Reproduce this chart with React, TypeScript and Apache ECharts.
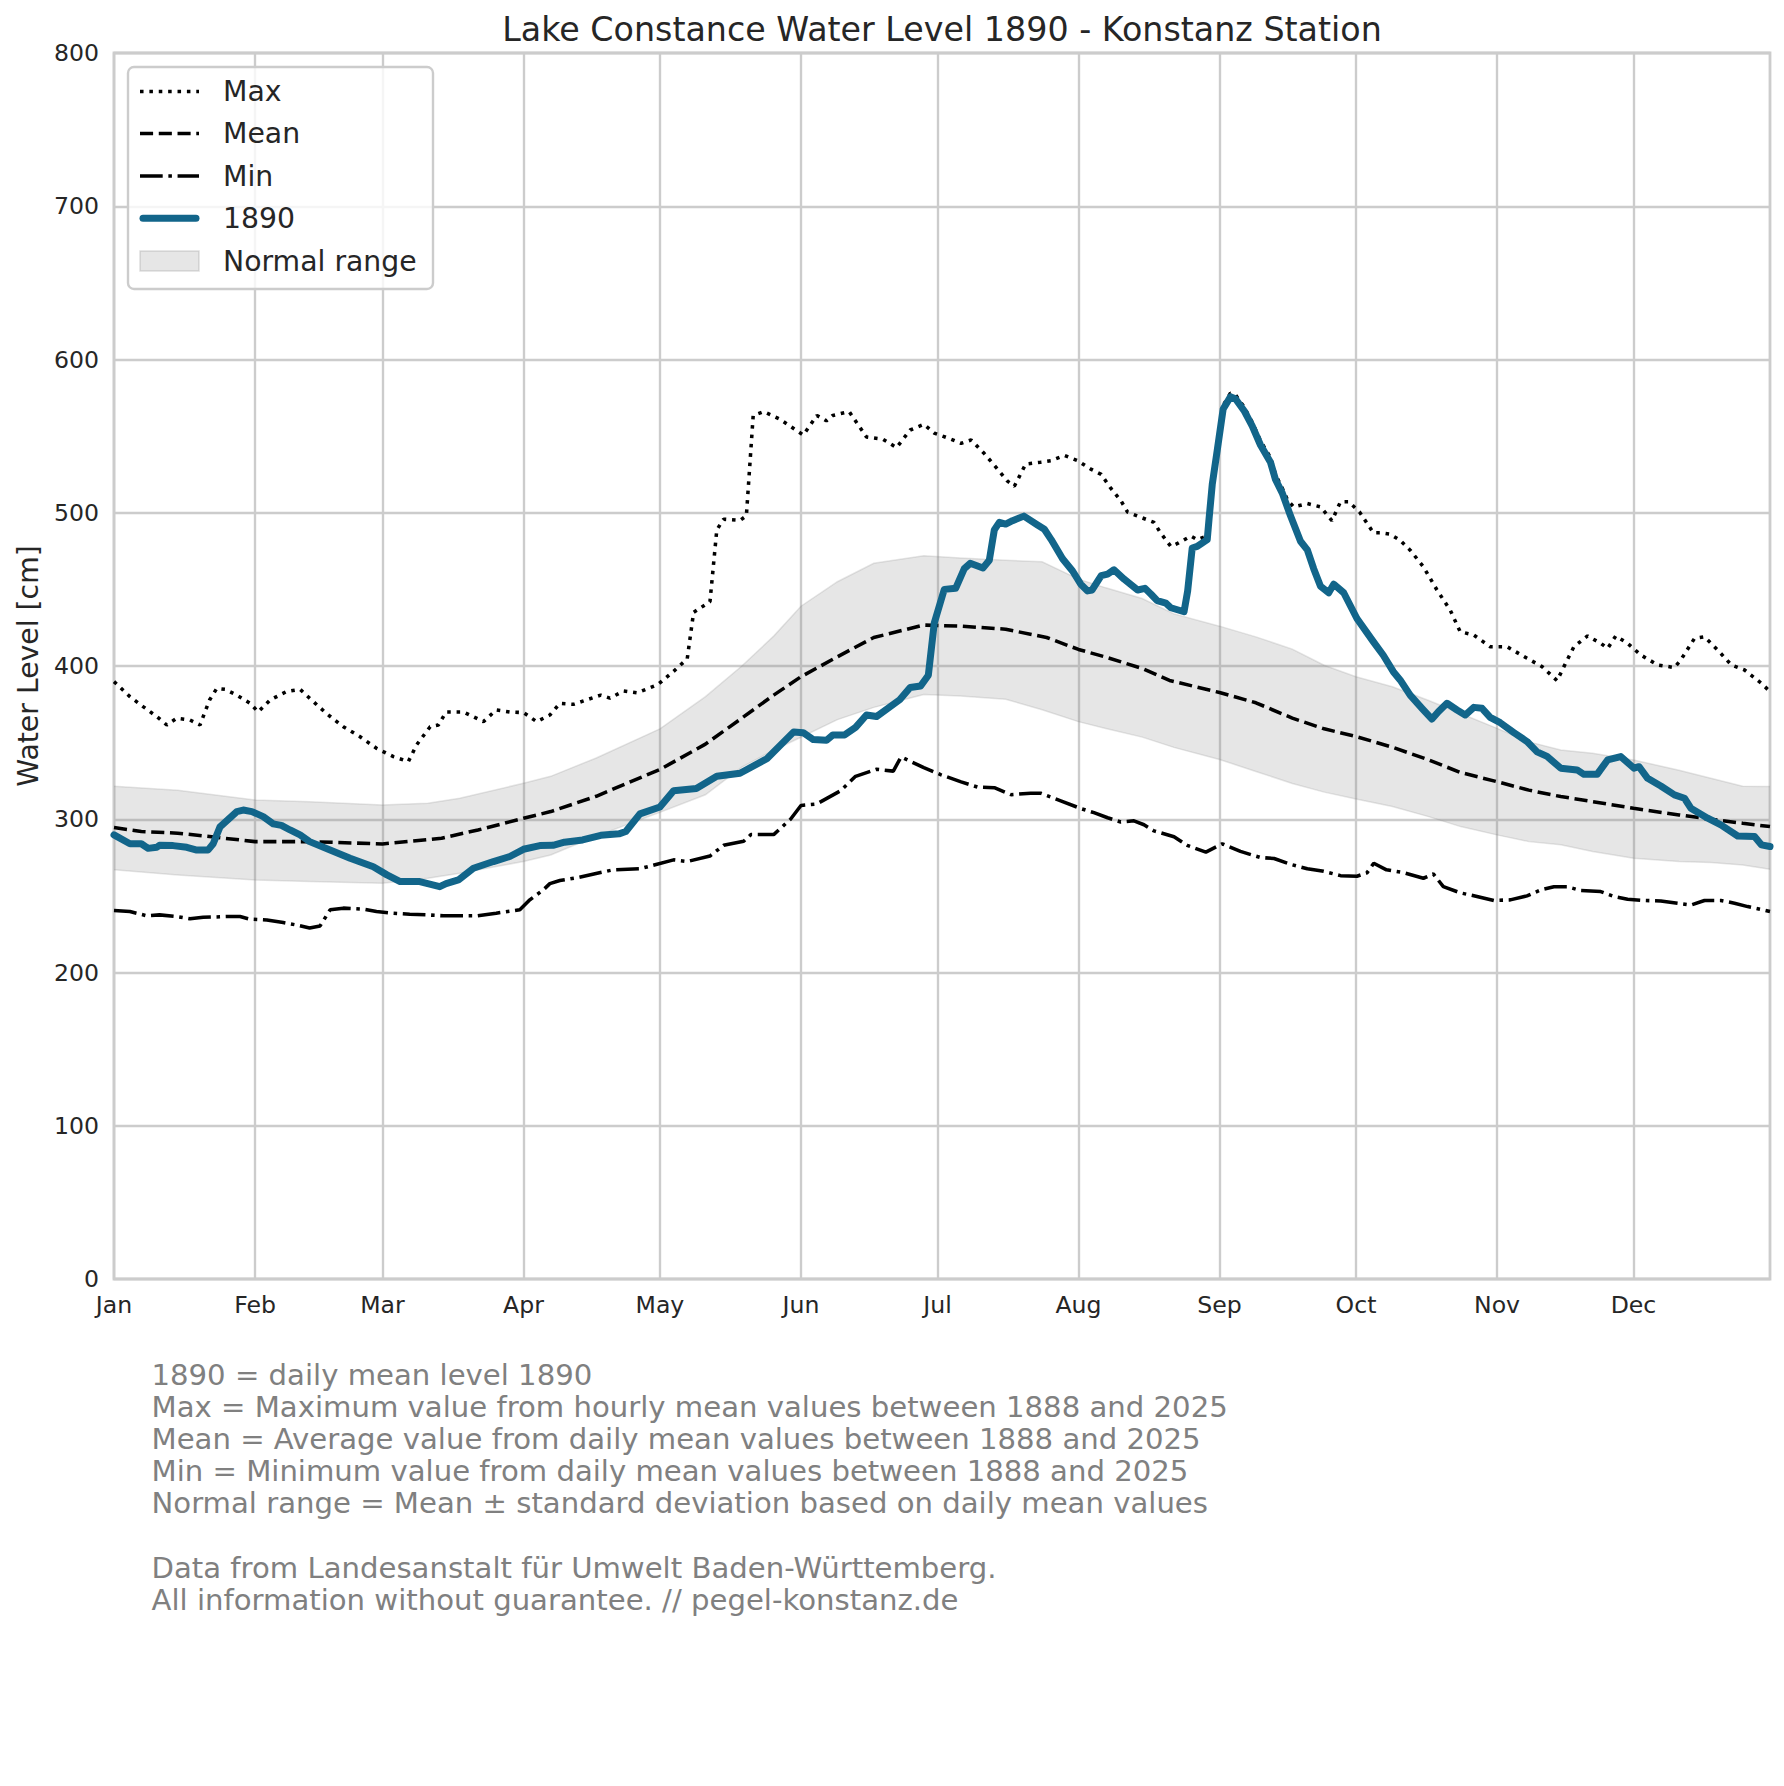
import React, { useEffect, useRef } from 'react';
import * as echarts from 'echarts';

const FONT = 'DejaVu Sans';
const TEXT_COLOR = '#262626';
const GRID_COLOR = '#cccccc';
const BLUE = '#12658a';

const titleText = 'Lake Constance Water Level 1890 - Konstanz Station';
const yAxisName = 'Water Level [cm]';
const monthLabels = ['Jan', 'Feb', 'Mar', 'Apr', 'May', 'Jun', 'Jul', 'Aug', 'Sep', 'Oct', 'Nov', 'Dec'];
const monthStartDays = [0, 31, 59, 90, 120, 151, 181, 212, 243, 273, 304, 334];
const dayCount = 365;
const yMin = 0;
const yMax = 800;
const yInterval = 100;

const legendNames = ['Max', 'Mean', 'Min', '1890', 'Normal range'];

const footnoteLines = [
  '1890 = daily mean level 1890',
  'Max = Maximum value from hourly mean values between 1888 and 2025',
  'Mean = Average value from daily mean values between 1888 and 2025',
  'Min = Minimum value from daily mean values between 1888 and 2025',
  'Normal range = Mean \u00b1 standard deviation based on daily mean values',
  '',
  'Data from Landesanstalt f\u00fcr Umwelt Baden-W\u00fcrttemberg.',
  'All information without guarantee. // pegel-konstanz.de',
];

// [day of year (0 = Jan 1), level cm]
const maxData: [number, number][] = [
  [0, 389.8], [3.5, 380], [6.4, 373.5], [9.4, 367], [11.6, 361.5], [13.8, 365.9], [16.7, 364.8], [18.9, 361.5],
  [21, 377.8], [22.6, 385.4], [24.4, 384.8], [27, 381], [29.9, 375.7], [31.7, 370], [34.3, 377.8], [37.9, 383.3],
  [40.9, 384.8], [43, 379], [46.7, 369], [50.4, 360.4], [54, 354], [57.7, 346.3], [61.4, 340.9], [64.7, 337.6],
  [66.5, 348.5], [69.5, 360.4], [71.3, 361.5], [73, 370], [76.8, 370], [81.2, 363.7], [84, 371.3], [87, 370],
  [90, 369.6], [92.9, 363.7], [95.8, 368], [98, 375.6], [101, 375], [107, 381], [109, 379], [112, 383.7],
  [115, 382.5], [119.6, 388], [123, 396.5], [126, 404.7], [127.4, 435], [131, 442], [132.5, 488.8], [134, 495.8],
  [137.6, 495], [139, 498], [140.5, 563.5], [142.8, 566], [146.4, 561], [151.5, 550.7], [154.5, 563.5], [156.6, 560],
  [158, 563.5], [161.6, 566], [165.4, 549.5], [169, 548], [172, 542.5], [175, 554], [178, 557.7], [180.3, 552],
  [184, 548], [186.2, 545.3], [188.4, 547.5], [191.3, 538.6], [194.2, 528.5], [196.4, 520.6], [197.9, 517.3],
  [200.4, 531.8], [203.7, 533], [206, 534], [208.9, 537.4], [211.8, 534], [214.7, 528.5], [217, 525], [219.1, 516],
  [221.3, 508], [222.8, 500.4], [225.7, 497], [228.6, 493.7], [230, 487], [232.3, 478], [234, 480.3], [236.7, 484.8],
  [238.1, 482.5], [240.5, 485], [241.4, 520], [242.5, 543], [243.8, 570], [245.4, 578], [246.5, 577], [248.4, 569],
  [250.2, 559], [252, 547], [254.2, 536], [255.3, 525], [256.8, 516], [258, 508], [259.3, 503.8], [262.3, 506],
  [265.2, 503.8], [267.7, 494.8], [269.6, 507.2], [271.4, 507.2], [273.8, 500.4], [276.8, 487], [278.3, 487],
  [280.5, 486], [282.7, 482], [284.9, 475.6], [287.8, 464.8], [290.8, 449.6], [293.7, 436.5], [295.9, 422.4],
  [298.9, 420.2], [302.5, 412.6], [306.2, 412.6], [310.6, 405], [313.9, 399.6], [317.2, 390.4], [318.7, 399.6],
  [320.9, 412.6], [323.9, 419.6], [326.8, 414.8], [328.3, 411.5], [330.1, 419.6], [332.7, 414.8], [335.6, 407.2],
  [339.3, 400.7], [343, 399], [344.4, 404], [347.4, 418], [349.6, 419], [352.5, 410.4], [355.5, 400.7],
  [358.4, 397.4], [362.1, 388.7], [364, 383.3],
];

const meanData: [number, number][] = [
  [0, 294.6], [6, 292], [14, 290.9], [21, 288.7], [31, 285.4], [43, 285.4], [59, 283.9], [72, 287.6], [80, 293],
  [90, 300.6], [96, 305], [106, 315], [120, 332.5], [130, 349], [138, 366], [145, 381], [151, 393], [159, 406],
  [167, 418.6], [178, 426.7], [186, 426], [196, 424], [205, 418.6], [212, 410.8], [218, 405.8], [226, 398.4],
  [232, 390.6], [243, 382.7], [251, 376], [259, 366], [266, 359], [273, 354], [281, 347], [289, 338.7],
  [296, 330.5], [304, 324.5], [311, 319], [318, 314.8], [325, 311.5], [334, 307.2], [344, 302.8], [351, 300],
  [358, 297.4], [364, 295.2],
];

const minData: [number, number][] = [
  [0, 240.4], [3.5, 239.8], [7.2, 237], [10, 237.6], [13.8, 236.5], [16.7, 235], [19.6, 236], [24.8, 236.5],
  [27.7, 236.5], [29.9, 234.8], [33.6, 234.3], [37.2, 232.6], [40.1, 231], [43, 229], [45.3, 230.4], [47.5, 240.9],
  [50.4, 242], [54.8, 241.3], [57.7, 239.8], [61.4, 238.7], [65, 238], [68.7, 237.6], [72.4, 237], [79.7, 237],
  [84, 238.7], [89.2, 240.9], [91.4, 247.4], [94.4, 254], [95.8, 258], [98, 260], [102, 262], [109.7, 267],
  [115.6, 267.7], [123, 273.5], [126, 272.4], [131, 276], [134, 283], [138.4, 285.6], [140, 290], [145, 290],
  [148.7, 300], [151, 309], [154.5, 310], [159.7, 318.6], [163, 328], [167.6, 332.6], [171.3, 331.4], [173, 340.7],
  [178, 333.7], [181.8, 329], [186.2, 324.4], [189.8, 321], [193.5, 320.6], [197.2, 316], [201.5, 317],
  [203.7, 317], [208.1, 312], [212.5, 307], [215.4, 304.3], [218.4, 301], [221.3, 298.2], [224.2, 299],
  [226.4, 296.4], [228.6, 292.4], [233, 288.6], [235.9, 283], [240, 278.5], [243.6, 284], [247.6, 279], [252, 275],
  [255, 274.4], [258.6, 270.6], [262.3, 267.7], [265.9, 266], [269.6, 263.2], [273.2, 262.8], [275.4, 265],
  [276.9, 271.3], [279.7, 267], [283.4, 265.2], [287.8, 261.5], [290, 264.3], [292.2, 256], [295.9, 252],
  [299.6, 249.6], [303.3, 247], [306.9, 247.4], [310.6, 250], [313.6, 253.9], [316.5, 256], [319.4, 256],
  [322.4, 253.5], [326.8, 252.8], [329.7, 249.6], [332.7, 247.8], [336.4, 247], [340, 246.7], [343.7, 245.2],
  [346.6, 244], [349.6, 247], [353.2, 247], [356.2, 245.2], [359.1, 243], [364, 239.8],
];

const level1890Data: [number, number][] = [
  [0, 289.8], [3.5, 284], [6, 284], [7.5, 281], [9.4, 281.7], [10, 283], [13, 282.8], [16, 281.7], [18, 280],
  [20.7, 280], [21.8, 284], [23.3, 295], [25, 299.6], [27, 305], [28.4, 306], [30.3, 305], [32.8, 301.7], [35, 297],
  [36.8, 296], [38.7, 293], [40.9, 289.8], [43, 285.4], [47.5, 280], [51.9, 274.6], [57, 269], [60, 263.7],
  [62.9, 259.3], [67.2, 259.3], [71.6, 256], [73, 258], [75.7, 260.4], [79, 268], [83.4, 272.4], [87, 275.7],
  [90, 280.4], [93.6, 282.8], [96.5, 283], [99, 285], [103, 286.5], [107, 289.5], [111, 290.5], [112.5, 292],
  [115.6, 303.5], [120, 308], [123, 318.6], [128, 320], [132.5, 328], [137.6, 330], [143.5, 339.5], [149.4, 357],
  [151.5, 356.5], [153.7, 352], [156.6, 351.5], [158, 355], [160.6, 355], [163, 360], [165.4, 368], [167.6, 367],
  [172.7, 378], [175, 386], [177.3, 387], [179, 394], [180.3, 428], [182.5, 450], [185, 450.7], [186.9, 463.5],
  [188.2, 467], [191, 464], [192.4, 469], [193.5, 488.8], [194.6, 493.7], [196, 492.6], [197.5, 494.8], [200, 497.8],
  [203, 492], [204.5, 489.2], [206, 482.5], [208.5, 470], [210.7, 462], [212.5, 453.4], [214, 449], [215, 449.6],
  [217, 459], [218.4, 460], [219.8, 462.8], [222, 456.7], [225, 449.6], [226.6, 450.7], [227.9, 447], [229.3, 442.6],
  [231.2, 441], [232.3, 438], [235.2, 435.4], [236, 449], [237, 477], [238.1, 478], [240.3, 482.5], [240.7, 496],
  [241.4, 518.4], [242.5, 540.8], [243.8, 567.7], [245.4, 575.6], [246.5, 574.4], [248.4, 566.6], [250.2, 556.5],
  [252, 544.2], [254.2, 533], [255.3, 521.7], [256.8, 512.8], [258.6, 498], [260.8, 481.4], [262.3, 475.8],
  [263.7, 463.5], [265.2, 452], [267, 447.8], [268.1, 453.4], [270.3, 447.8], [273.2, 431], [276.8, 415.9],
  [279, 407], [281.2, 396.3], [282.7, 390.9], [284.9, 381], [287.5, 372.4], [289.7, 365.4], [291.1, 370.2],
  [293, 375.7], [295.2, 371.3], [297, 368], [298.9, 373], [300.7, 372.4], [302.5, 366.5], [304.7, 363],
  [307.7, 356.5], [310.6, 350.7], [312.8, 344], [315, 341], [318, 333.3], [321.6, 332.2], [323.1, 329.3],
  [326, 329.3], [328.3, 338.7], [331.2, 340.9], [334.1, 333.3], [335.2, 334.3], [337.1, 326.7], [340, 321.7],
  [343, 315.9], [345.2, 313.7], [346.6, 307.2], [350.3, 300.7], [353.2, 296.3], [356.9, 289.1], [360.6, 288.7],
  [362.1, 283.3], [364, 282.2],
];

const bandDays = [0, 14, 31, 43, 59, 69, 76, 90, 96, 106, 120, 130, 138, 145, 151, 159, 167, 178, 186, 196, 204, 212,
  218, 226, 233, 243, 251, 259, 266, 273, 281, 289, 296, 304, 311, 318, 325, 334, 344, 351, 358, 364];
const bandUpper = [321.5, 319, 312.6, 311.5, 309.3, 310.4, 313.7, 323.5, 328, 340, 359, 380, 400, 419.5, 439, 455,
  467, 472, 470.5, 469, 468, 456.7, 451, 444, 434, 426, 419, 411, 400.5, 393, 386.5, 377.5, 369, 359.3, 350.5, 345.2,
  343, 338.7, 332, 326.7, 321.5, 321.3];
const bandLower = [267, 263.7, 260.4, 259.3, 258.3, 261.5, 264.8, 272.4, 276.7, 289, 304.5, 316, 334, 345, 353.5, 365,
  373, 381.4, 380.5, 378.3, 371.5, 363.7, 359.2, 353.6, 346.9, 339, 331.2, 323.3, 317.7, 313.2, 308.3, 301.7, 295.2,
  289.8, 285.4, 283.3, 279, 274.6, 272.4, 271.7, 270.2, 267.4];

const LW = 3.54;
const dotDash = [LW, 5.84];
const dashDash = [13.1, 5.66];
const dashDotDash = [22.7, 5.66, LW, 5.66];
const BAND_COLOR = 'rgba(128,128,128,0.2)';

function buildOption() {
  const categories = Array.from({ length: dayCount }, (_, i) => {
    const m = monthStartDays.indexOf(i);
    return m >= 0 ? monthLabels[m] : '';
  });
  const isMonthStart = (index: number) => monthStartDays.indexOf(index) >= 0;

  const gridLeft = 114;
  const gridTop = 53;
  const gridWidth = 1656;
  const gridHeight = 1226;

  const legendX = 128;
  const legendY = 67;
  const handleX1 = 140;
  const handleX2 = 199;
  const textX = 223;
  const rowY = [91.5, 133.5, 176, 218.3, 261];

  const legendGraphics: any[] = [
    {
      type: 'rect', z: 100,
      shape: { x: legendX, y: legendY, width: 305, height: 222, r: 6 },
      style: { fill: 'rgba(255,255,255,0.8)', stroke: GRID_COLOR, lineWidth: 2.4 },
    },
    {
      type: 'line', z: 101,
      shape: { x1: handleX1, y1: rowY[0], x2: handleX2, y2: rowY[0] },
      style: { stroke: '#000', lineWidth: LW, lineDash: dotDash, lineCap: 'butt' },
    },
    {
      type: 'line', z: 101,
      shape: { x1: handleX1, y1: rowY[1], x2: handleX2, y2: rowY[1] },
      style: { stroke: '#000', lineWidth: LW, lineDash: dashDash, lineCap: 'butt' },
    },
    {
      type: 'line', z: 101,
      shape: { x1: handleX1, y1: rowY[2], x2: handleX2, y2: rowY[2] },
      style: { stroke: '#000', lineWidth: LW, lineDash: dashDotDash, lineCap: 'butt' },
    },
    {
      type: 'line', z: 101,
      shape: { x1: handleX1 + 3, y1: rowY[3], x2: handleX2 - 3, y2: rowY[3] },
      style: { stroke: BLUE, lineWidth: 7, lineCap: 'round' },
    },
    {
      type: 'rect', z: 101,
      shape: { x: handleX1, y: rowY[4] - 10, width: handleX2 - handleX1, height: 20 },
      style: { fill: BAND_COLOR, stroke: 'rgba(128,128,128,0.25)', lineWidth: 1.5 },
    },
    ...legendNames.map((name, i) => ({
      type: 'text', z: 101,
      style: {
        text: name, x: textX, y: rowY[i], fill: TEXT_COLOR, fontSize: 28.3, fontFamily: FONT,
        textAlign: 'left', align: 'left', textVerticalAlign: 'middle', verticalAlign: 'middle',
      },
    })),
  ];

  const footGraphics = footnoteLines.map((line, i) => ({
    type: 'text', z: 100,
    style: {
      text: line, x: 151.5, y: 1375.2 + i * 32.05, fill: '#808080', fontSize: 29.15, fontFamily: FONT,
      textAlign: 'left', align: 'left', textVerticalAlign: 'middle', verticalAlign: 'middle',
    },
  }));

  const titleGraphic = {
    type: 'text', z: 100,
    style: {
      text: titleText, x: 942, y: 29.2, fill: TEXT_COLOR, fontSize: 33.3, fontFamily: FONT,
      textAlign: 'center', align: 'center', textVerticalAlign: 'middle', verticalAlign: 'middle',
    },
  };

  const bandRenderItem = (params: any, api: any) => {
    const upperPts = bandDays.map((d, i) => api.coord([d, bandUpper[i]]));
    const lowerPts = bandDays.map((d, i) => api.coord([d, bandLower[i]])).reverse();
    return {
      type: 'group',
      children: [
        {
          type: 'polygon',
          shape: { points: upperPts.concat(lowerPts) },
          style: { fill: BAND_COLOR, stroke: 'none' },
        },
        {
          type: 'polyline',
          shape: { points: upperPts },
          style: { fill: 'none', stroke: BAND_COLOR, lineWidth: 1.5 },
        },
        {
          type: 'polyline',
          shape: { points: lowerPts },
          style: { fill: 'none', stroke: BAND_COLOR, lineWidth: 1.5 },
        },
      ],
    };
  };

  return {
    animation: false,
    backgroundColor: '#ffffff',
    textStyle: { fontFamily: FONT, color: TEXT_COLOR },
    grid: {
      left: gridLeft, top: gridTop, width: gridWidth, height: gridHeight,
      show: true, borderColor: GRID_COLOR, borderWidth: 2.8, backgroundColor: 'transparent',
    },
    xAxis: [
      {
        type: 'category',
        data: categories,
        boundaryGap: false,
        axisLine: { show: false },
        axisTick: { show: false },
        axisLabel: {
          interval: (index: number) => isMonthStart(index),
          fontSize: 23.6, color: TEXT_COLOR, fontFamily: FONT, margin: 14,
        },
        splitLine: {
          show: true,
          interval: (index: number) => isMonthStart(index),
          lineStyle: { color: GRID_COLOR, width: 2.36 },
        },
      },
      {
        type: 'value',
        min: 0,
        max: dayCount - 1,
        show: false,
        splitLine: { show: false },
      },
    ],
    yAxis: {
      type: 'value',
      min: yMin,
      max: yMax,
      interval: yInterval,
      name: yAxisName,
      nameLocation: 'middle',
      nameGap: 72,
      nameTextStyle: { fontSize: 28.3, color: TEXT_COLOR, fontFamily: FONT },
      axisLine: { show: false },
      axisTick: { show: false },
      axisLabel: { fontSize: 23.6, color: TEXT_COLOR, fontFamily: FONT, margin: 15 },
      splitLine: { show: true, lineStyle: { color: GRID_COLOR, width: 2.36 } },
    },
    graphic: [titleGraphic, ...legendGraphics, ...footGraphics],
    series: [
      {
        name: 'Normal range',
        type: 'custom',
        xAxisIndex: 1,
        coordinateSystem: 'cartesian2d',
        data: [[bandDays[0], bandLower[0]]],
        renderItem: bandRenderItem,
        silent: true,
        clip: true,
        z: 1,
      },
      {
        name: 'Min',
        type: 'line',
        xAxisIndex: 1,
        data: minData,
        symbol: 'none',
        lineStyle: { color: '#000', width: LW, type: dashDotDash, cap: 'butt' },
      },
      {
        name: 'Mean',
        type: 'line',
        xAxisIndex: 1,
        data: meanData,
        symbol: 'none',
        lineStyle: { color: '#000', width: LW, type: dashDash, cap: 'butt' },
      },
      {
        name: 'Max',
        type: 'line',
        xAxisIndex: 1,
        data: maxData,
        symbol: 'none',
        lineStyle: { color: '#000', width: LW, type: dotDash, cap: 'butt' },
      },
      {
        name: '1890',
        type: 'line',
        xAxisIndex: 1,
        data: level1890Data,
        symbol: 'none',
        lineStyle: { color: BLUE, width: 7, cap: 'round', join: 'round' },
      },
    ],
  };
}

export default function App() {
  const ref = useRef<HTMLDivElement>(null);
  useEffect(() => {
    if (!ref.current) return;
    const chart = echarts.init(ref.current, undefined, { renderer: 'svg' });
    chart.setOption(buildOption() as any);
    return () => chart.dispose();
  }, []);
  return (
    <div
      ref={ref}
      style={{ position: 'absolute', left: 0, top: 0, width: '1784px', height: '1786px', background: '#fff' }}
    />
  );
}
